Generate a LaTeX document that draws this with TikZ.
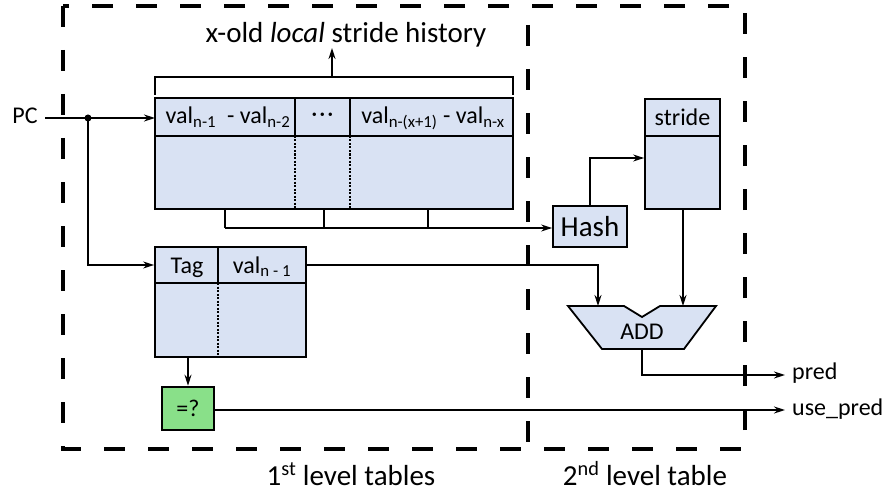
\documentclass[tikz,border=0pt]{standalone}
\usepackage{fontspec}
\setmainfont{Carlito}
\usetikzlibrary{arrows.meta}
\definecolor{cellblue}{RGB}{217,226,243}
\definecolor{cmpgreen}{RGB}{137,224,137}
\begin{document}
\begin{tikzpicture}[x=1pt,y=-1pt,
  box/.style={draw,line width=1.8pt,fill=cellblue,inner sep=0pt},
  wire/.style={draw,line width=1.6pt},
  conn/.style={draw,line width=1.6pt,-{Stealth[length=11pt,width=7pt]}},
  sep/.style={draw,line width=1.4pt,dash pattern=on 2pt off 1.5pt},
  txt/.style={inner sep=0pt,font=\fontsize{24}{28}\selectfont},
  bigtxt/.style={inner sep=0pt,font=\fontsize{29}{33}\selectfont},
  frame/.style={draw,line width=3.5pt,dash pattern=on 21pt off 23pt}]
\useasboundingbox (0,0) rectangle (894,492);
% level frames
\path[frame] (63,6) rectangle (745,449);
\path[frame] (528,25) -- (528,449);
\node[bigtxt,anchor=base] (lvl1) at (351,485) {1\textsuperscript{st} level tables};
\node[bigtxt,anchor=base] (lvl2) at (645,485) {2\textsuperscript{nd} level table};
% history table
\node[box,minimum width=358pt,minimum height=111pt] (hist) at (334,153.5) {};
\path[draw,line width=1.8pt] (155,136) -- (513,136);
\path[draw,line width=1.5pt] (295,98) -- (295,136);
\path[draw,line width=1.5pt] (350,98) -- (350,136);
\path[sep] (295,136) -- (295,209);
\path[sep] (350,136) -- (350,209);
\node[txt,anchor=base] (h1) at (228,124) {val\textsubscript{n-1}\ \ - val\textsubscript{n-2}};
\node[txt] (h2) at (322.5,117) {·\kern2pt·\kern2pt·};
\node[txt,anchor=base] (h3) at (433,124) {val\textsubscript{n-(x+1)} - val\textsubscript{n-x}};
% stride history output
\node[bigtxt,anchor=base] (title) at (346,43) {x-old \textit{local} stride history};
\coordinate (brk) at (332,77);
\path[wire] (155,95) -- (155,77) -- (513,77) -- (513,95);
\path[conn] (brk) -- (332,48);
% tag table
\node[box,minimum width=151pt,minimum height=110pt] (tag) at (230.5,302) {};
\path[draw,line width=1.8pt] (155,283) -- (306,283);
\path[draw,line width=1.5pt] (218,247) -- (218,283);
\path[sep] (218,283) -- (218,357);
\coordinate (tagh) at (230.5,265);
\node[txt,anchor=base] (tagl) at (187,273) {Tag};
\node[txt,anchor=base] (tagv) at (262,273) {val\textsubscript{n - 1}};
% compare
\node[draw,line width=2.5pt,fill=cmpgreen,minimum width=52pt,minimum height=43pt,txt] (eq) at (188,408.5) {=?};
% hash and stride
\node[box,bigtxt,minimum width=74pt,minimum height=41pt] (hash) at (590,226.5) {Hash};
\node[box,minimum width=75pt,minimum height=110pt] (stride) at (682.5,154) {};
\path[draw,line width=1.8pt] (645,136) -- (720,136);
\node[txt,anchor=base] (stl) at (682.5,125) {stride};
% adder
\path[draw,line width=1.8pt,fill=cellblue] (568,306) -- (624,306) -- (642,317) -- (660,306)
  -- (716,306) -- (684,349) -- (602,349) -- cycle;
\node[txt,anchor=base] (add) at (642,339) {ADD};
\coordinate (addl) at (598,306);
\coordinate (addr) at (683,306);
\coordinate (addo) at (642,349);
% inputs and outputs
\node[txt,anchor=base] (pc) at (25,124) {PC};
\coordinate (pcj) at (88,118);
\node[txt,anchor=base west] (pred) at (792,379) {pred};
\node[txt,anchor=base west] (usep) at (792,415) {use\_pred};
% connections
\path[wire] (45,118) -- (pcj);
\path[conn] (pcj) -- (155,118);
\path[conn] (pcj) |- (tag.west |- tagh);
\fill (pcj) circle (3.5pt);
\path[wire] (hist.south -| 225,0) -- (225,228);
\path[wire] (hist.south -| 324,0) -- (324,228);
\path[wire] (hist.south -| 428,0) -- (428,228);
\path[conn] (225,228) -- (hash.west |- 0,228);
\path[conn] (hash.north) |- ([yshift=-4pt]stride.west);
\path[conn] (stride.south -| addr) -- (addr);
\path[conn] (tag.east |- tagh) -| (addl);
\path[conn] (tag.south -| eq.north) -- (eq.north);
\path[conn] (addo) |- (785,375);
\path[conn] (eq.east |- 0,410) -- (785,410);
\end{tikzpicture}
\end{document}
